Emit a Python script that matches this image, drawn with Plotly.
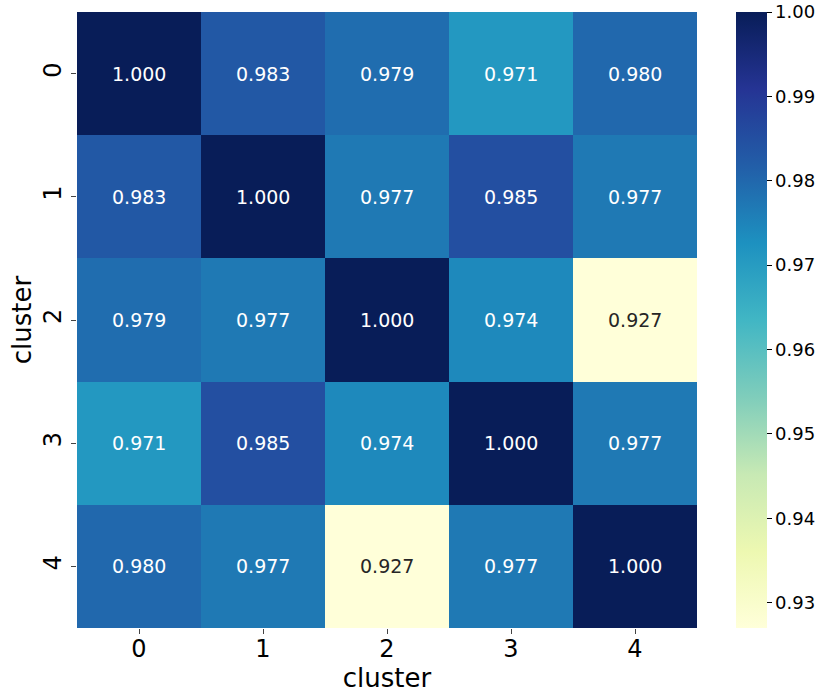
import plotly.graph_objects as go

# cluster-to-cluster similarity matrix
clusters = ["0", "1", "2", "3", "4"]
row_0 = [1.000, 0.983, 0.979, 0.971, 0.980]
row_1 = [0.983, 1.000, 0.977, 0.985, 0.977]
row_2 = [0.979, 0.977, 1.000, 0.974, 0.927]
row_3 = [0.971, 0.985, 0.974, 1.000, 0.977]
row_4 = [0.980, 0.977, 0.927, 0.977, 1.000]
matrix = [row_0, row_1, row_2, row_3, row_4]

cbar_ticks = [0.93, 0.94, 0.95, 0.96, 0.97, 0.98, 0.99, 1.00]

# matplotlib YlGnBu
ylgnbu = ["#ffffd9", "#edf8b1", "#c7e9b4", "#7fcdbb", "#41b6c4",
          "#1d91c0", "#225ea8", "#253494", "#081d58"]
colorscale = [[i / (len(ylgnbu) - 1), c] for i, c in enumerate(ylgnbu)]

font = "DejaVu Sans"

fig = go.Figure()
fig.add_trace(go.Heatmap(
    z=matrix, x=clusters, y=clusters,
    colorscale=colorscale,
    zmin=min(min(r) for r in matrix), zmax=1.0,
    xgap=0, ygap=0,
    colorbar=dict(
        x=1.063, xanchor="left", y=0.5, yanchor="middle",
        len=1.0, lenmode="fraction", thickness=31, outlinewidth=0,
        xpad=0, ypad=0,
        tickvals=cbar_ticks, ticktext=[f"{t:.2f}" for t in cbar_ticks],
        ticks="outside", ticklen=5, tickcolor="black",
        ticklabeloverflow="allow",
        tickfont=dict(family=font, size=18, color="black"),
    ),
    hoverinfo="skip",
))

# cell annotations, dark text on the light cells
for i, row in enumerate(matrix):
    for j, v in enumerate(row):
        fig.add_annotation(
            x=clusters[j], y=clusters[i], text=f"{v:.3f}", showarrow=False,
            font=dict(family=font, size=19,
                      color="#262626" if v < 0.94 else "white"),
        )

fig.update_layout(
    width=830, height=693,
    margin=dict(l=77, r=133, t=12, b=65, pad=0),
    paper_bgcolor="white", plot_bgcolor="white",
    font=dict(family=font, color="black"),
    xaxis=dict(
        title=dict(text="cluster", font=dict(size=26), standoff=16),
        tickfont=dict(size=24), ticks="outside", ticklen=5,
        ticklabelstandoff=-6,
        showgrid=False, zeroline=False, showline=False, automargin=False,
    ),
    yaxis=dict(
        title=dict(text="cluster", font=dict(size=26), standoff=0),
        tickfont=dict(size=24), ticks="outside", ticklen=5, tickangle=-90,
        autorange="reversed",
        showgrid=False, zeroline=False, showline=False, automargin=False,
    ),
)

# drop the default page margin so the figure sits at the window corner
fig.write_html("out.html", config={"displayModeBar": False},
               post_script="document.body.style.margin='0';")
